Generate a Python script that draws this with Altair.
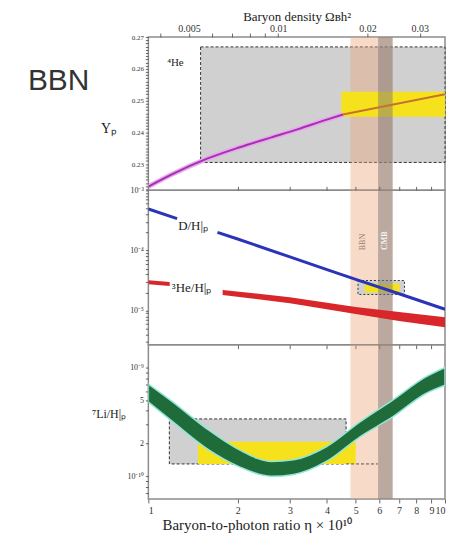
import altair as alt
import pandas as pd

# ---------------- values ----------------
# top panel: 4He mass fraction Yp versus eta x 1e10
yp_eta = [1.0, 1.21, 1.57, 2.02, 2.6, 3.2, 3.97, 4.53]
yp_val = [0.2229, 0.2269, 0.2316, 0.2352, 0.2384, 0.2410, 0.2439, 0.2456]
yp_eta_hi = [4.53, 6.5, 10.0]
yp_val_hi = [0.2456, 0.2485, 0.2520]
he4_obs_eta = [1.5, 10.0]
he4_obs_val = [0.2305, 0.2669]
he4_yel_eta = [4.47, 10.0]
he4_yel_val = [0.2449, 0.2528]

# middle panel: D/H and 3He/H
dh_eta = [1.0, 1.25, 1.71, 2.0, 3.0, 4.0, 5.0, 7.0, 10.0]
dh_val = [4.9e-4, 3.39e-4, 2.0e-4, 1.55e-4, 7.8e-5, 4.8e-5, 3.3e-5, 1.9e-5, 1.05e-5]
dh_seg = ["a", "a", "b", "b", "b", "b", "b", "b", "b"]
he3_eta = [1.0, 1.18, 1.78, 3.0, 5.0, 7.0, 10.0]
he3_hi = [3.18e-5, 2.97e-5, 2.20e-5, 1.66e-5, 1.14e-5, 9.44e-6, 7.73e-6]
he3_lo = [2.74e-5, 2.55e-5, 1.81e-5, 1.32e-5, 8.75e-6, 6.68e-6, 5.27e-6]
he3_seg = ["a", "a", "b", "b", "b", "b", "b"]
dh_obs_eta = [5.09, 7.3]
dh_obs_val = [1.85e-5, 3.16e-5]
dh_yel_eta = [5.37, 7.03]
dh_yel_val = [2.0e-5, 2.82e-5]

# bottom panel: 7Li/H (in units of 1e-10)
li_eta = [1.0, 1.21, 1.57, 2.02, 2.6, 3.09, 3.98, 5.17, 6.66, 8.56, 10.0]
li_hi = [7.05, 4.81, 2.75, 1.76, 1.37, 1.42, 1.87, 3.16, 5.01, 8.11, 10.0]
li_lo = [4.81, 3.16, 1.81, 1.23, 1.00, 1.04, 1.37, 2.31, 3.51, 5.71, 6.86]
li_obs_eta = [1.177, 4.64]
li_obs_val = [1.3, 3.37]
li_yel_eta = [1.47, 5.0]
li_yel_val = [1.3, 2.08]
li_dash_eta = [4.64, 5.94]

# vertical bands
bbn_eta = [4.8, 6.66]
cmb_eta = [5.95, 6.66]

# axis ticks / labels
eta_ticks = [1, 2, 3, 4, 5, 6, 7, 8, 9, 10]
omega_major = [0.005, 0.01, 0.02, 0.03]
omega_minor = [0.004, 0.006, 0.007, 0.008, 0.009]
omega_to_eta = 274.0
yp_ticks = [round(0.222 + 0.001 * i, 3) for i in range(49)]
mid_ticks = [float(f"{m}e{e}") for e in (-6, -5, -4, -3) for m in range(1, 10)
             if 2.7e-6 <= float(f"{m}e{e}") <= 1e-3]
bot_ticks = [float(f"{m}e{e}") for e in (-11, -10, -9) for m in range(1, 10)
             if 6.2e-11 <= float(f"{m}e{e}") <= 1.62e-9]

# text labels
lab_he4 = (1.157, 0.2619)
lab_dh = (1.26, 2.54e-4)
lab_he3 = (1.2, 2.35e-5)
lab_bbn = (5.29, 1.38e-4)
lab_cmb = (6.3, 1.45e-4)

# ---------------- chart ----------------
FONT = "Liberation Serif"
W = 298
H1, H2, H3 = 154, 155, 155
STIP = "#d0d0d0"
YEL = "#f6e21c"
ORANGE = "#eaa676"
ORANGE_OP = 0.4
CMBC = "#7f7878"
CMB_OP = 0.5

xs = alt.Scale(type="log", domain=[1, 10], nice=False)


def rect_df(xa, ya):
    return pd.DataFrame({"x0": [xa[0]], "x1": [xa[1]], "y0": [ya[0]], "y1": [ya[1]]})


def band_df(xa):
    return pd.DataFrame({"x0": [xa[0]], "x1": [xa[1]]})


def rect(df, ax, ys, ay, **mk):
    return alt.Chart(df).mark_rect(**mk).encode(
        x=alt.X("x0:Q", scale=xs, axis=ax), x2="x1:Q",
        y=alt.Y("y0:Q", scale=ys, axis=ay), y2="y1:Q")


def band(df, ax, H, **mk):
    return alt.Chart(df).mark_rect(**mk).encode(
        x=alt.X("x0:Q", scale=xs, axis=ax), x2="x1:Q",
        y=alt.value(0), y2=alt.value(H))


def label(x, y, t, ax, ys, ay, **mk):
    df = pd.DataFrame({"x": [x], "y": [y], "t": [t]})
    return alt.Chart(df).mark_text(font=FONT, **mk).encode(
        x=alt.X("x:Q", scale=xs, axis=ax), y=alt.Y("y:Q", scale=ys, axis=ay), text="t:N")


# ---- top panel ----
top_vals = [v * omega_to_eta for v in omega_major + omega_minor]
top_expr = " : ".join(
    f"abs(datum.value/{omega_to_eta} - {o}) < 1e-6 ? '{o}'" for o in omega_major) + " : ''"
ax1 = alt.Axis(orient="top", values=top_vals, labelExpr=top_expr,
               title="Baryon density Ωʙh²", tickSize=4, labelFontSize=10,
               titleFontSize=13, labelPadding=0, titlePadding=0)
ys1 = alt.Scale(domain=[0.2217, 0.27], nice=False, zero=False)
ay1 = alt.Axis(values=yp_ticks,
               labelExpr="abs(datum.value*100 - round(datum.value*100)) < 0.01 ? format(datum.value, '.2f') : ''",
               title="Yₚ", titleAngle=0, titleFontSize=14, titleX=-40, titleY=92,
               titleAlign="center", titleBaseline="middle", tickSize=3, labelFontSize=7,
               labelPadding=2)

df_yp = pd.DataFrame({"eta": yp_eta, "v": yp_val})
df_yp_hi = pd.DataFrame({"eta": yp_eta_hi, "v": yp_val_hi})


def yp_line(df, **mk):
    return alt.Chart(df).mark_line(clip=True, interpolate="monotone", **mk).encode(
        x=alt.X("eta:Q", scale=xs, axis=ax1), y=alt.Y("v:Q", scale=ys1, axis=ay1))


top = alt.layer(
    rect(rect_df(he4_obs_eta, he4_obs_val), ax1, ys1, ay1, fill=STIP, stroke="#333",
         strokeDash=[3, 2], strokeWidth=1),
    band(band_df(bbn_eta), ax1, H1, fill=ORANGE, opacity=ORANGE_OP),
    rect(rect_df(he4_yel_eta, he4_yel_val), ax1, ys1, ay1, fill=YEL),
    band(band_df(cmb_eta), ax1, H1, fill=CMBC, opacity=CMB_OP),
    yp_line(df_yp, color="#e8a8ec", strokeWidth=5),
    yp_line(df_yp, color="#a630b4", strokeWidth=2),
    yp_line(df_yp_hi, color="#c4742c", strokeWidth=2),
    label(*lab_he4, "⁴He", ax1, ys1, ay1, fontSize=11, align="left", color="#222"),
    alt.Chart(pd.DataFrame({"t": ["BBN"]})).mark_text(
        font="Liberation Sans", fontSize=30, align="left", baseline="alphabetic",
        color="#333").encode(x=alt.value(-121), y=alt.value(53), text="t:N"),
).properties(width=W, height=H1)

# ---- middle panel ----
ax2b = alt.Axis(orient="bottom", values=eta_ticks[1:-1], labels=False, tickSize=4, title=None)
ax2t = alt.Axis(orient="top", values=eta_ticks[1:-1], labels=False, tickSize=4, title=None)
ys2 = alt.Scale(type="log", domain=[2.7e-6, 1e-3], nice=False)
ay2 = alt.Axis(values=mid_ticks,
               labelExpr="datum.value > 9.9e-4 ? '10⁻³' : abs(datum.value-1e-4) < 1e-9 ? '10⁻⁴' : abs(datum.value-1e-5) < 1e-10 ? '10⁻⁵' : ''",
               title=None, tickSize=3, labelFontSize=8, labelPadding=2)

df_dh = pd.DataFrame({"eta": dh_eta, "v": dh_val, "s": dh_seg})
df_he3 = pd.DataFrame({"eta": he3_eta, "hi": he3_hi, "lo": he3_lo, "s": he3_seg})

mid_main = alt.layer(
    band(band_df(bbn_eta), ax2b, H2, fill=ORANGE, opacity=ORANGE_OP),
    rect(rect_df(dh_obs_eta, dh_obs_val), ax2b, ys2, ay2, fill=STIP, stroke="#333",
         strokeDash=[2, 2], strokeWidth=1),
    rect(rect_df(dh_yel_eta, dh_yel_val), ax2b, ys2, ay2, fill=YEL),
    band(band_df(cmb_eta), ax2b, H2, fill=CMBC, opacity=CMB_OP),
    alt.Chart(df_he3).mark_area(color="#d8262b", clip=True).encode(
        x=alt.X("eta:Q", scale=xs, axis=ax2b), y=alt.Y("hi:Q", scale=ys2, axis=ay2),
        y2="lo:Q", detail="s:N"),
    alt.Chart(df_dh).mark_line(color="#2a34b8", strokeWidth=3, clip=True).encode(
        x=alt.X("eta:Q", scale=xs, axis=ax2b), y=alt.Y("v:Q", scale=ys2, axis=ay2),
        detail="s:N"),
    label(*lab_dh, "D/H|ₚ", ax2b, ys2, ay2, fontSize=13, align="left", color="#222"),
    label(*lab_he3, "³He/H|ₚ", ax2b, ys2, ay2, fontSize=13, align="left", color="#222"),
    label(*lab_bbn, "BBN", ax2b, ys2, ay2, fontSize=8, angle=270, color="#9a8070"),
    label(*lab_cmb, "CMB", ax2b, ys2, ay2, fontSize=8, angle=270, color="#f4f4f4",
          fontWeight="bold"),
)
mid_ticks_layer = alt.Chart(band_df(bbn_eta)).mark_rect(opacity=0).encode(
    x=alt.X("x0:Q", scale=xs, axis=ax2t), x2="x1:Q", y=alt.value(0), y2=alt.value(1))
mid = alt.layer(mid_main, mid_ticks_layer).resolve_axis(x="independent").properties(
    width=W, height=H2)

# ---- bottom panel ----
ax3 = alt.Axis(orient="bottom", values=eta_ticks, labelExpr="format(datum.value, 'd')",
               title="Baryon-to-photon ratio η × 10¹⁰", tickSize=4, labelFontSize=10,
               titleFontSize=15, labelPadding=3, titlePadding=2, labelFlush=True,
               titleX=109, titleAlign="center")
ys3 = alt.Scale(type="log", domain=[6.2e-11, 1.62e-9], nice=False)
ay3 = alt.Axis(values=bot_ticks,
               labelExpr="abs(datum.value-1e-9) < 1e-13 ? '10⁻⁹' : abs(datum.value-5e-10) < 1e-13 ? '5' : abs(datum.value-2e-10) < 1e-13 ? '2' : abs(datum.value-1e-10) < 1e-13 ? '10⁻¹⁰' : ''",
               title="⁷Li/H|ₚ", titleAngle=0, titleFontSize=12, titleX=-40, titleY=69,
               titleAlign="center", titleBaseline="middle", tickSize=3, labelFontSize=8,
               labelPadding=2)

df_li = pd.DataFrame({"eta": li_eta, "hi": [v * 1e-10 for v in li_hi],
                      "lo": [v * 1e-10 for v in li_lo]})
df_li_dash = pd.DataFrame({"x0": [li_dash_eta[0]], "x1": [li_dash_eta[1]],
                           "y0": [li_obs_val[0] * 1e-10]})

bot = alt.layer(
    rect(rect_df(li_obs_eta, [v * 1e-10 for v in li_obs_val]), ax3, ys3, ay3, fill=STIP,
         stroke="#333", strokeDash=[3, 2], strokeWidth=1),
    band(band_df(bbn_eta), ax3, H3, fill=ORANGE, opacity=ORANGE_OP),
    rect(rect_df(li_yel_eta, [v * 1e-10 for v in li_yel_val]), ax3, ys3, ay3, fill=YEL),
    alt.Chart(df_li_dash).mark_rule(color="#555", strokeDash=[3, 2], strokeWidth=1).encode(
        x=alt.X("x0:Q", scale=xs, axis=ax3), x2="x1:Q", y=alt.Y("y0:Q", scale=ys3, axis=ay3)),
    band(band_df(cmb_eta), ax3, H3, fill=CMBC, opacity=CMB_OP),
    alt.Chart(df_li).mark_area(color="#1f6b3a", stroke="#8fe6d6", strokeWidth=1.5,
                               interpolate="monotone", clip=True).encode(
        x=alt.X("eta:Q", scale=xs, axis=ax3), y=alt.Y("hi:Q", scale=ys3, axis=ay3),
        y2="lo:Q"),
).properties(width=W, height=H3)

chart = alt.vconcat(top, mid, bot, spacing=0, bounds="flush").properties(
    padding={"left": 19, "top": 0, "right": 0, "bottom": 0}
).configure_view(stroke="#8c8c8c", strokeWidth=1.5).configure_axis(
    domain=False, grid=False, labelFont=FONT, titleFont=FONT, labelColor="#333",
    titleColor="#222", tickColor="#666", titleFontWeight="normal")

chart.save("out.html", embed_options={"renderer": "svg", "actions": False})
